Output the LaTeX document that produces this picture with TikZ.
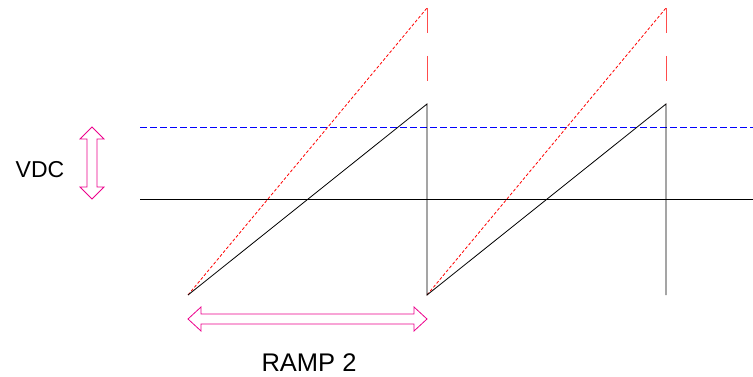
\documentclass[tikz,border=0pt]{standalone}
\usepackage{fontspec}
\setmainfont{Liberation Sans}
\usepackage{tikz}

\tikzset{
 ramp/.style={line width=0.8pt, black},
 ref/.style={line width=0.8pt, red, dash pattern=on 3pt off 2pt},
 refdrop/.style={line width=0.8pt, red!70, dash pattern=on 25pt off 23pt},
 hollow/.style={draw=magenta, line width=0.8pt},
}

\begin{document}
\begin{tikzpicture}[x=1pt,y=-1pt]
 \useasboundingbox (0,0) rectangle (753,377);
 % levels
 \coordinate (D0) at (140,127);
 \coordinate (D1) at (753,127);
 \coordinate (H0) at (140,199);
 \coordinate (H1) at (753,199);
 \draw[line width=0.8pt, blue, dash pattern=on 7pt off 3pt] (D0) -- (D1);
 \draw[ramp] (H0) -- (H1);
 % ramp corners
 \coordinate (B0) at (188,295);
 \coordinate (B1) at (427,295);
 \coordinate (B2) at (666,295);
 \coordinate (T1) at (427,104);
 \coordinate (T2) at (666,104);
 \coordinate (R1) at (427,8);
 \coordinate (R2) at (666,8);
 \draw[ref] (B0) -- (R1);
 \draw[ref] (B1) -- (R2);
 \draw[refdrop] (R1) -- (T1);
 \draw[refdrop] (R2) -- (T2);
 \draw[ramp] (B0) -- (T1) -- (B1) -- (T2) -- (B2);
 % arrows
 \draw[hollow] (92,127) -- (104,139) -- (97,139) -- (97,187) -- (104,187)
   -- (92,199) -- (80,187) -- (87,187) -- (87,139) -- (80,139) -- cycle;
 \draw[hollow] (188,319) -- (201,307) -- (201,314) -- (414,314) -- (414,307)
   -- (427,319) -- (414,331) -- (414,324) -- (201,324) -- (201,331) -- cycle;
 \node (vdc) at (40,169.5) {\fontsize{23}{27}\selectfont VDC};
 \node (rampw) at (309,362.5) {\fontsize{25.5}{30}\selectfont RAMP 2};
\end{tikzpicture}
\end{document}
